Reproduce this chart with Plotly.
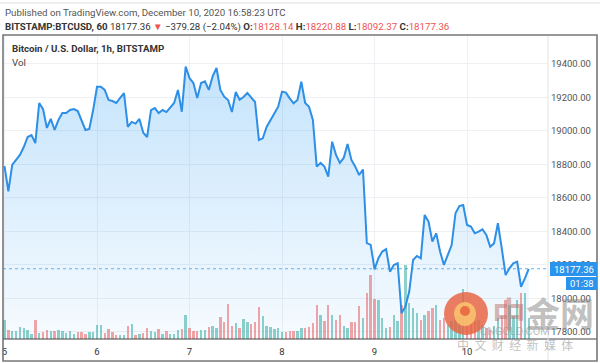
import plotly.graph_objects as go
import pandas as pd

# ---------------- data ----------------
start_time = "2020-12-05 00:00"
close = [
    18790, 18640, 18797, 18827, 18857, 18904, 18964, 18976, 18928, 19167,
    19130, 19018, 19072, 19006, 19066, 19107, 19107, 19125, 19131, 19119,
    19066, 19006, 19012, 19125, 19264, 19264, 19245, 19185, 19179, 19167,
    19197, 19226, 19024, 19054, 19044, 19072, 18990, 18964, 19125, 19137,
    19107, 19125, 19113, 19137, 19167, 19245, 19115, 19384, 19316, 19286,
    19197, 19286, 19296, 19245, 19326, 19376, 19245, 19205, 19185, 19113,
    19233, 19187, 19203, 19227, 19203, 19173, 18946, 18956, 19024, 19064,
    19105, 19145, 19235, 19229, 19195, 19165, 19185, 19294, 19167, 19145,
    19066, 18787, 18809, 18787, 18727, 18936, 18857, 18809, 18839, 18922,
    18827, 18787, 18737, 18770, 18330, 18320, 18174, 18240, 18280, 18294,
    18160, 18200, 18210, 17912, 17951, 18041, 18230, 18254, 18240, 18499,
    18459, 18340, 18389, 18280, 18200, 18260, 18319, 18509, 18552, 18558,
    18439, 18429, 18389, 18399, 18413, 18379, 18309, 18329, 18449, 18300,
    18140, 18180, 18210, 18220, 18070, 18120, 18177.36,
]
volume = [
    187, 87, 83, 83, 117, 110, 87, 53, 193, 60,
    67, 87, 77, 77, 93, 77, 60, 83, 53, 73,
    67, 47, 70, 70, 143, 143, 60, 100, 67, 43,
    37, 43, 127, 153, 43, 47, 60, 110, 83, 67,
    100, 53, 77, 47, 47, 93, 100, 243, 110, 83,
    83, 87, 93, 120, 127, 110, 220, 167, 353, 133,
    160, 110, 200, 167, 153, 167, 320, 227, 133, 120,
    100, 110, 70, 70, 77, 83, 77,
    110, 110, 120, 160, 343, 243, 183, 343, 243, 193,
    243, 133, 110, 167, 167, 327, 210, 460, 643, 400,
    393, 210, 110, 120, 243, 177, 343, 743, 360, 310,
    260, 193, 243, 277, 310, 343, 193, 210, 143, 177,
    227, 227, 500, 210, 160, 177, 193, 143, 110, 93,
    127, 210, 227, 393, 343, 227, 393, 460, 460, 210,
]
day_ticks = ["2020-12-05", "2020-12-06", "2020-12-07", "2020-12-08", "2020-12-09", "2020-12-10"]
day_labels = ["5", "6", "7", "8", "9", "10"]
price_ticks = [17800, 18000, 18200, 18400, 18600, 18800, 19000, 19200, 19400]

symbol = "BITSTAMP:BTCUSD, 60"
last_open, last_high, last_low = 18128.14, 18220.88, 18092.37
change, change_pct = -379.28, -2.04
countdown = "01:38"
published = "Published on TradingView.com, December 10, 2020 16:58:23 UTC"
chart_title = "Bitcoin / U.S. Dollar, 1h, BITSTAMP"

# ---------------- layout geometry ----------------
W, H = 600, 363
ML, MR, MT, MB = 3, 52, 35, 24
PW, PH = W - ML - MR, H - MT - MB


def px(x):
    return (x - ML) / PW


def py(y):
    return (H - MB - y) / PH


FONT = "Roboto, Liberation Sans, Arial, sans-serif"
TXT = 9.7
UP = "rgba(38,166,154,0.52)"
DOWN = "rgba(239,83,80,0.52)"
LINE = "#2d8fe6"
RED = "#ef5350"

times = pd.date_range(start_time, periods=len(close), freq="h")
vol_colors = [UP] + [UP if close[i] >= close[i - 1] else DOWN for i in range(1, len(close))]

t0 = pd.Timestamp(start_time)
x_range = [t0 - pd.Timedelta(hours=0.39), t0 + pd.Timedelta(hours=141)]
y_lo, y_hi = 17758, 19573

fig = go.Figure()
fig.add_trace(go.Bar(
    x=times, y=volume, marker=dict(color=vol_colors, line=dict(width=0)),
    width=0.62 * 3600 * 1000, yaxis="y", hoverinfo="skip", showlegend=False,
))
fig.add_trace(go.Scatter(
    x=times, y=close, mode="lines", yaxis="y2",
    line=dict(color=LINE, width=2),
    fill="tozeroy",
    fillgradient=dict(type="vertical", start=y_lo, stop=19450,
                      colorscale=[[0, "rgba(33,150,243,0.04)"], [1, "rgba(33,150,243,0.27)"]]),
    showlegend=False,
))

last = close[-1]
shapes = [
    dict(type="line", xref="paper", x0=0, x1=1, yref="y2", y0=last, y1=last,
         line=dict(color="rgba(33,150,243,0.7)", width=1, dash="dot"), layer="above"),
    dict(type="line", xref="paper", yref="paper", x0=px(0), x1=px(600), y0=py(3), y1=py(3),
         line=dict(color="#dcdcdc", width=1)),
    dict(type="line", xref="paper", yref="paper", x0=px(3), x1=px(597), y0=py(339), y1=py(339),
         line=dict(color="#444", width=1.2), layer="above"),
    dict(type="line", xref="paper", yref="paper", x0=px(548), x1=px(548), y0=py(35), y1=py(361),
         line=dict(color="#e3e3e3", width=1), layer="above"),
    dict(type="rect", xref="paper", yref="paper", x0=px(3), x1=px(597), y0=py(35), y1=py(361),
         line=dict(color="#777", width=1.6), layer="above"),
    dict(type="rect", xref="paper", yref="paper", x0=px(550), x1=px(597), y0=py(262), y1=py(276),
         fillcolor="#2a93ec", line=dict(width=0), layer="above"),
    dict(type="rect", xref="paper", yref="paper", x0=px(566), x1=px(597), y0=py(277), y1=py(290),
         fillcolor="#2a93ec", line=dict(width=0), layer="above"),
    dict(type="circle", xref="paper", yref="paper", x0=px(444), x1=px(488), y0=py(292), y1=py(335),
         fillcolor="rgba(232,98,62,0.82)", line=dict(width=0), layer="above"),
    dict(type="circle", xref="paper", yref="paper", x0=px(454), x1=px(476), y0=py(302), y1=py(326),
         fillcolor="rgba(250,196,110,0.85)", line=dict(width=0), layer="above"),
    dict(type="circle", xref="paper", yref="paper", x0=px(460), x1=px(470), y0=py(306), y1=py(316),
         fillcolor="rgba(232,98,62,0.85)", line=dict(width=0), layer="above"),
]

header2 = (
    f"<b>{symbol}</b> {last:.2f} <span style='color:{RED}'>▼</span> "
    f"{change:.2f} ({change_pct:.2f}%) ".replace("-", "−")
    + f"<b>O:</b><span style='color:{RED}'>{last_open:.2f}</span> "
    f"<b>H:</b><span style='color:{RED}'>{last_high:.2f}</span> "
    f"<b>L:</b><span style='color:{RED}'>{last_low:.2f}</span> "
    f"<b>C:</b><span style='color:{RED}'>{last:.2f}</span>"
)

ann = [
    dict(text=published, x=px(3), y=py(13), font=dict(size=TXT, color="#555")),
    dict(text=header2, x=px(3), y=py(27), font=dict(size=TXT, color="#333")),
    dict(text=f"<b>{chart_title}</b>", x=px(10), y=py(48), font=dict(size=TXT, color="#333")),
    dict(text="Vol", x=px(10), y=py(63), font=dict(size=TXT, color="#444")),
    dict(text=f"{last:.2f}", x=px(573.5), y=py(269), xanchor="center", font=dict(size=9.5, color="white")),
    dict(text=countdown, x=px(581.5), y=py(283.5), xanchor="center", font=dict(size=9.5, color="white")),
    dict(text="<b>中</b>", x=px(509), y=py(312), xanchor="center",
         font=dict(size=34, color="rgba(185,120,115,0.55)", family="Noto Sans CJK SC")),
    dict(text="<b>金网</b>", x=px(560), y=py(312), xanchor="center",
         font=dict(size=34, color="rgba(140,140,140,0.55)", family="Noto Sans CJK SC")),
    dict(text="CNGOLD.COM", x=px(515), y=py(331), xanchor="center",
         font=dict(size=11, color="rgba(150,150,150,0.6)")),
    dict(text="中  文  财  经  新  媒  体", x=px(515), y=py(345), xanchor="center",
         font=dict(size=12, color="rgba(150,150,150,0.6)", family="Noto Sans CJK SC")),
]
for a in ann:
    a.setdefault("xanchor", "left")
    a.update(xref="paper", yref="paper", yanchor="middle", showarrow=False)
    a["font"].setdefault("family", FONT)

fig.update_layout(
    width=W, height=H,
    margin=dict(l=ML, r=MR, t=MT, b=MB),
    paper_bgcolor="white", plot_bgcolor="white",
    font=dict(family=FONT, size=10, color="#333"),
    bargap=0,
    xaxis=dict(
        type="date", range=x_range, tickvals=day_ticks, ticktext=day_labels,
        showgrid=True, gridcolor="#eef0f4", gridwidth=1, zeroline=False,
        showline=False, ticks="", tickfont=dict(size=9.5, color="#333"),
        ticklabelstandoff=5,
    ),
    yaxis=dict(range=[0, 3040], visible=False, showgrid=False, fixedrange=True),
    yaxis2=dict(
        overlaying="y", side="right", range=[y_lo, y_hi], tickvals=price_ticks,
        tickformat=".2f", showgrid=True, gridcolor="#eef0f4", gridwidth=1,
        zeroline=False, showline=False, ticks="",
        tickfont=dict(size=9.5, color="#555"), ticklabelstandoff=2,
    ),
    shapes=shapes,
    annotations=ann,
)

fig.write_html("out.html", config={"displayModeBar": False},
               post_script="document.body.style.margin='0';")
